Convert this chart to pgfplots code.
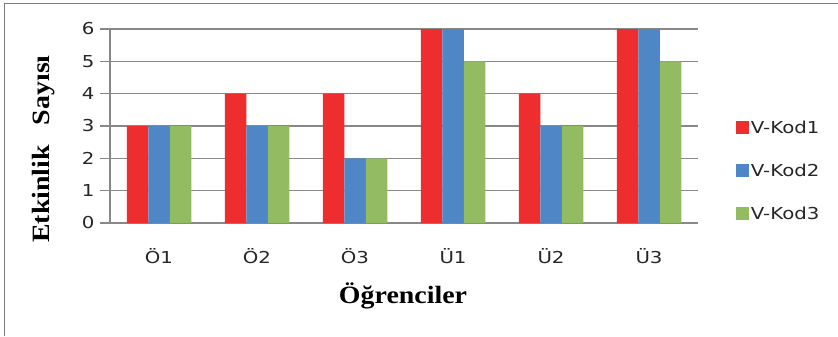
\documentclass[border=0pt]{standalone}
\usepackage{fontspec}
\setmainfont{Liberation Serif}
\newfontfamily\tickfont[FakeStretch=1.2]{DejaVu Sans}
\newfontfamily\titlefont[FakeStretch=1.12]{Liberation Serif}
\usepackage{pgfplots}
\pgfplotsset{compat=1.18}
\definecolor{cred}{RGB}{237,45,46}
\definecolor{cblue}{RGB}{79,134,198}
\definecolor{cgreen}{RGB}{146,187,98}
\definecolor{cgrid}{RGB}{136,136,136}
\begin{document}
\begin{tikzpicture}[x=1bp,y=1bp]
\useasboundingbox (0,0) rectangle (838,336);
\draw[color=cgrid!90!black, line width=1.5bp] (4.5,0) -- (4.5,332.5) -- (838,332.5);
\begin{axis}[
  at={(110bp,113bp)}, anchor=south west,
  scale only axis, width=588bp, height=194bp,
  ybar=0pt, bar width=21.5bp,
  xmin=-0.5, xmax=5.5, ymin=0, ymax=6,
  xtick={0,1,2,3,4,5},
  xticklabels={Ö1,Ö2,Ö3,Ü1,Ü2,Ü3},
  ytick={0,1,2,3,4,5,6},
  axis x line*=bottom, axis y line*=left,
  axis line style={cgrid, line width=1.2bp, -},
  ymajorgrids, grid style={cgrid, line width=1.2bp},
  x tick style={draw=none},
  y tick style={cgrid, line width=1.2bp},
  tick align=outside, major tick length=10bp,
  ticklabel style={font=\tickfont\fontsize{16.5}{19}\selectfont, text=black!85},
  /pgf/number format/assume math mode=true,
  xticklabel style={yshift=-12bp},
  yticklabel style={xshift=-2bp},
  legend style={at={(1.059,0.27)}, anchor=west, draw=none, fill=none,
    font=\tickfont\fontsize{16.5}{19}\selectfont, text=black!85,
    row sep=25bp, legend cell align=left},
  legend image code/.code={\fill[#1] (0bp,-6.5bp) rectangle (13bp,6.5bp);},
]
\addplot[fill=cred, draw=none] coordinates {(0,3) (1,4) (2,4) (3,6) (4,4) (5,6)};
\addplot[fill=cblue, draw=none] coordinates {(0,3) (1,3) (2,2) (3,6) (4,3) (5,6)};
\addplot[fill=cgreen, draw=none] coordinates {(0,3) (1,3) (2,2) (3,5) (4,3) (5,5)};
\legend{V-Kod1,V-Kod2,V-Kod3}
\end{axis}
\node[font=\titlefont\bfseries\fontsize{25}{28}\selectfont] at (403,40) {Öğrenciler};
\node[font=\titlefont\bfseries\fontsize{25}{28}\selectfont, rotate=90] at (44,187) {Etkinlik\hspace{0.8em}Sayısı};
\end{tikzpicture}
\end{document}
